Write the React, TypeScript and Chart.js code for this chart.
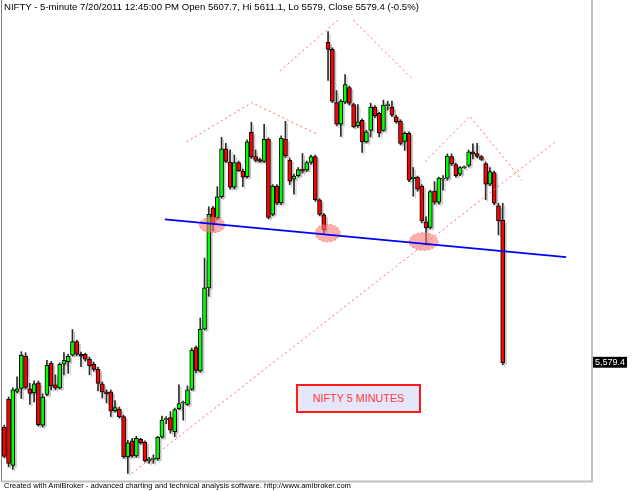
import React, { useEffect, useRef } from "react";
import Chart from "chart.js/auto";
import type { ChartConfiguration, Plugin } from "chart.js";

// 5-minute bars, oldest first; the last bar is 7/20/2011 12:45
const opens = [
  5566.6, 5572.2, 5559.0, 5573.7, 5574.3, 5580.7, 5574.2, 5573.4, 5575.4, 5567.0,
  5573.1, 5579.3, 5575.0, 5574.4, 5579.1, 5579.6, 5580.9, 5583.6, 5581.1, 5581.1,
  5580.1, 5579.1, 5578.1, 5575.2, 5573.6, 5573.6, 5569.9, 5570.2, 5568.7, 5560.7,
  5563.9, 5560.9, 5564.2, 5563.6, 5559.9, 5560.2, 5560.3, 5564.6, 5568.1, 5568.5,
  5565.7, 5570.3, 5571.4, 5571.1, 5574.1, 5582.4, 5577.8, 5586.1, 5594.3, 5610.2,
  5608.2, 5612.4, 5621.9, 5619.3, 5614.3, 5619.2, 5617.5, 5616.4, 5625.2, 5620.4,
  5619.8, 5619.4, 5623.8, 5608.9, 5614.5, 5611.2, 5623.8, 5619.7, 5615.9, 5616.6,
  5617.9, 5617.7, 5619.2, 5620.4, 5611.8, 5608.8, 5643.1, 5641.7, 5631.1, 5626.8,
  5631.2, 5634.1, 5630.7, 5626.5, 5627.6, 5623.3, 5625.6, 5630.2, 5629.0, 5625.6,
  5630.5, 5630.2, 5628.3, 5627.4, 5623.4, 5625.0, 5616.0, 5616.3, 5614.5, 5607.4,
  5606.3, 5613.5, 5611.3, 5615.9, 5616.1, 5620.4, 5618.8, 5616.9, 5618.2, 5618.6,
  5621.3, 5621.0, 5620.4, 5619.0, 5614.9, 5617.2, 5610.6, 5607.7,
];
const highs = [
  5567.0, 5572.6, 5574.4, 5576.6, 5581.6, 5581.4, 5575.3, 5575.8, 5575.8, 5573.2,
  5579.9, 5579.7, 5577.0, 5579.4, 5581.4, 5581.1, 5586.0, 5583.9, 5581.5, 5581.3,
  5580.5, 5579.5, 5578.5, 5575.6, 5574.0, 5574.0, 5571.9, 5570.6, 5569.0, 5564.0,
  5564.4, 5564.8, 5564.4, 5563.9, 5560.6, 5561.1, 5564.8, 5568.8, 5568.7, 5569.7,
  5570.4, 5575.0, 5571.8, 5574.8, 5582.3, 5582.7, 5588.3, 5600.2, 5610.4, 5610.5,
  5614.4, 5624.2, 5623.0, 5621.7, 5620.7, 5619.5, 5617.9, 5623.7, 5627.2, 5621.7,
  5620.1, 5626.8, 5624.1, 5614.8, 5614.8, 5624.5, 5627.4, 5620.1, 5616.9, 5618.2,
  5621.0, 5619.5, 5620.7, 5620.7, 5612.0, 5609.1, 5645.2, 5642.0, 5633.5, 5631.7,
  5636.7, 5634.4, 5631.0, 5630.7, 5627.9, 5625.6, 5631.0, 5630.5, 5629.2, 5631.6,
  5631.4, 5631.4, 5628.6, 5627.7, 5625.3, 5625.3, 5618.2, 5616.5, 5614.8, 5608.4,
  5613.7, 5615.4, 5616.3, 5616.6, 5620.9, 5620.9, 5619.1, 5618.4, 5618.5, 5621.7,
  5622.9, 5623.0, 5620.6, 5619.3, 5618.2, 5617.5, 5611.1, 5611.1,
];
const lows = [
  5560.5, 5558.7, 5558.2, 5573.4, 5572.3, 5574.2, 5571.1, 5571.6, 5566.8, 5566.6,
  5572.8, 5574.0, 5574.0, 5574.2, 5577.0, 5577.3, 5580.7, 5580.8, 5578.6, 5579.7,
  5577.0, 5577.7, 5573.8, 5572.4, 5571.4, 5568.7, 5569.6, 5568.4, 5560.4, 5557.4,
  5560.6, 5560.6, 5563.2, 5559.7, 5559.4, 5559.4, 5560.0, 5564.4, 5567.3, 5565.4,
  5564.7, 5570.1, 5568.0, 5570.9, 5573.9, 5577.4, 5577.5, 5585.9, 5592.6, 5605.6,
  5607.8, 5612.1, 5619.2, 5613.9, 5613.9, 5617.4, 5614.4, 5616.1, 5620.0, 5619.3,
  5619.2, 5619.2, 5608.0, 5608.6, 5610.8, 5610.8, 5620.2, 5614.8, 5612.9, 5616.3,
  5617.1, 5617.4, 5618.8, 5611.5, 5608.6, 5605.1, 5635.5, 5631.1, 5626.5, 5624.4,
  5630.9, 5630.6, 5626.1, 5626.2, 5621.2, 5623.1, 5624.3, 5628.1, 5624.3, 5625.4,
  5629.6, 5628.3, 5627.0, 5622.7, 5621.6, 5615.4, 5612.5, 5613.5, 5607.2, 5602.8,
  5606.0, 5610.9, 5610.9, 5613.7, 5615.7, 5618.6, 5616.3, 5616.6, 5618.0, 5618.3,
  5619.9, 5620.1, 5619.6, 5611.8, 5614.6, 5610.8, 5604.8, 5579.0,
];
const closes = [
  5560.8, 5559.4, 5574.0, 5574.2, 5580.9, 5574.5, 5573.3, 5575.2, 5567.1, 5572.6,
  5578.9, 5574.8, 5574.4, 5579.1, 5579.9, 5580.7, 5583.6, 5581.1, 5580.7, 5580.1,
  5578.8, 5578.1, 5575.3, 5573.6, 5573.2, 5569.8, 5570.5, 5568.7, 5560.7, 5563.5,
  5560.9, 5564.4, 5563.5, 5559.9, 5560.3, 5560.3, 5564.6, 5568.0, 5568.2, 5566.0,
  5570.1, 5571.3, 5571.5, 5574.0, 5581.9, 5577.9, 5586.1, 5594.3, 5608.9, 5607.1,
  5612.4, 5621.9, 5619.4, 5614.3, 5619.2, 5617.6, 5616.3, 5623.3, 5620.3, 5619.6,
  5619.4, 5623.8, 5608.3, 5614.5, 5611.1, 5624.0, 5620.5, 5615.5, 5616.5, 5617.8,
  5617.5, 5619.2, 5620.4, 5611.8, 5608.9, 5605.8, 5641.7, 5631.4, 5626.8, 5631.4,
  5634.7, 5631.0, 5626.3, 5627.3, 5623.3, 5625.3, 5630.2, 5628.5, 5625.1, 5630.6,
  5630.6, 5628.6, 5627.3, 5623.0, 5625.0, 5615.7, 5616.3, 5613.9, 5607.6, 5606.2,
  5613.4, 5611.3, 5616.1, 5616.1, 5620.5, 5618.9, 5616.6, 5618.2, 5618.3, 5621.3,
  5620.9, 5620.4, 5619.8, 5614.9, 5617.4, 5611.1, 5607.6, 5579.4,
];

// hand-drawn trend lines as [bar index, price] points
const leftShoulderLine = [[42.8, 5623.3], [58.1, 5631.1], [73.7, 5624.7]];
const headRiseLine = [[64.7, 5637.4], [78.3, 5647.5]];
const headFallLine = [[81.9, 5647.5], [95.7, 5635.9]];
const rightShoulderLine = [[98.8, 5619.4], [109.3, 5628.4], [121.5, 5615.7]];
const channelLine = [[29.9, 5557.4], [129.6, 5623.5]];
const necklineLine = [[37.7, 5607.9], [131.9, 5600.4]];

// neckline touches: [bar index, price, half width in bars, half height in points]
const touchMarks = [
  [48.8, 5606.8, 3.0, 1.55],
  [75.9, 5605.2, 2.9, 1.75],
  [98.4, 5603.5, 3.35, 1.75],
];

const FONT = 'Arial, "Liberation Sans", sans-serif';
const UP = "#00ff00";
const DOWN = "#ff0000";

const formatPrice = (v: number) => {
  const [int, dec] = v.toFixed(1).split(".");
  return `${int.replace(/\B(?=(\d{3})+$)/g, ",")}.${dec}`;
};

const toPoints = (line: number[][]) => line.map(([x, y]) => ({ x, y }));

const trendDataset = (line: number[][], color: string, width: number, dash: number[]) => ({
  type: "line" as const,
  data: toPoints(line),
  borderColor: color,
  borderWidth: width,
  borderDash: dash,
  pointRadius: 0,
  fill: false,
  tension: 0,
  order: dash.length ? 1 : 0,
});

// light grey copy of each candle, a little down and right
const shadowPlugin: Plugin = {
  id: "candleShadow",
  beforeDatasetsDraw(chart) {
    const ctx = chart.ctx;
    ctx.save();
    ctx.fillStyle = "#c4c4c4";
    [0, 1].forEach((index) => {
      chart.getDatasetMeta(index).data.forEach((element: any) => {
        const { x, y, base, width } = element.getProps(["x", "y", "base", "width"], true);
        const top = Math.min(y, base);
        const h = Math.max(Math.abs(base - y), 1);
        ctx.fillRect(x - width / 2 + 2, top + 2, width, h);
      });
    });
    ctx.restore();
  },
};

const touchPlugin: Plugin = {
  id: "touchMarks",
  afterDatasetDraw(chart, args) {
    if (args.index !== 1) return;
    const { x: xs, y: ys } = chart.scales;
    const ctx = chart.ctx;
    ctx.save();
    touchMarks.forEach(([cx, cy, hw, hh]) => {
      const px = xs.getPixelForValue(cx);
      const py = ys.getPixelForValue(cy);
      const rx = Math.abs(xs.getPixelForValue(cx + hw) - px);
      const ry = Math.abs(ys.getPixelForValue(cy + hh) - py);
      ctx.beginPath();
      ctx.ellipse(px, py, rx, ry, 0, 0, Math.PI * 2);
      ctx.fillStyle = "rgba(255, 120, 120, 0.6)";
      ctx.fill();
      ctx.setLineDash([2, 2]);
      ctx.strokeStyle = "rgba(255, 90, 90, 0.8)";
      ctx.lineWidth = 1;
      ctx.stroke();
    });
    ctx.restore();
  },
};

const framePlugin: Plugin = {
  id: "frame",
  afterDraw(chart) {
    const { ctx, chartArea: area } = chart;
    ctx.save();
    ctx.strokeStyle = "#808080";
    ctx.lineWidth = 1;
    ctx.beginPath();
    ctx.moveTo(1.5, 0);
    ctx.lineTo(1.5, area.bottom + 2);
    ctx.stroke();
    ctx.strokeStyle = "#c0c0c0";
    ctx.lineWidth = 2;
    ctx.beginPath();
    ctx.moveTo(1, area.bottom + 1.5);
    ctx.lineTo(area.right + 1, area.bottom + 1.5);
    ctx.moveTo(area.right, 0);
    ctx.lineTo(area.right, area.bottom + 2.5);
    ctx.stroke();
    ctx.restore();
  },
};

const CandleChart: React.FC = () => {
  const canvasRef = useRef<HTMLCanvasElement | null>(null);

  useEffect(() => {
    const canvas = canvasRef.current;
    if (!canvas) return;

    const bodyColors = opens.map((o, i) => (closes[i] >= o ? UP : DOWN));
    const lastClose = closes[closes.length - 1];

    const config: ChartConfiguration = {
      type: "bar",
      data: {
        datasets: [
          {
            type: "bar",
            label: "range",
            data: lows.map((l, i) => ({ x: i, y: [l, highs[i]] })) as any,
            backgroundColor: "#2a2a2a",
            barThickness: 1,
            grouped: false,
            order: 3,
          },
          {
            type: "bar",
            label: "body",
            data: opens.map((o, i) => ({ x: i, y: [o, closes[i]] })) as any,
            backgroundColor: bodyColors,
            borderColor: "#000000",
            borderWidth: 1,
            borderSkipped: false,
            barThickness: 4,
            minBarLength: 1,
            grouped: false,
            order: 2,
          },
          trendDataset(leftShoulderLine, "#ff6a6a", 1, [2, 3]),
          trendDataset(headRiseLine, "#ff6a6a", 1, [2, 3]),
          trendDataset(headFallLine, "#ff6a6a", 1, [2, 3]),
          trendDataset(rightShoulderLine, "#ff6a6a", 1, [2, 3]),
          trendDataset(channelLine, "#ff6a6a", 1, [2, 3]),
          trendDataset(necklineLine, "#0000ff", 1.6, []),
        ] as any,
      },
      options: {
        responsive: true,
        maintainAspectRatio: false,
        animation: false,
        events: [],
        layout: { padding: { left: 2, right: 0, top: 0, bottom: 11 } },
        plugins: {
          legend: { display: false },
          tooltip: { enabled: false },
        },
        scales: {
          x: {
            type: "linear",
            min: -0.54,
            max: 137.96,
            offset: false,
            display: false,
          },
          y: {
            type: "linear",
            position: "right",
            min: 5556.1,
            max: 5651.5,
            grid: { display: false, drawTicks: false },
            border: { display: false },
            afterBuildTicks: (axis: any) => {
              axis.ticks = [{ value: lastClose }];
            },
            afterFit: (axis: any) => {
              axis.width = 48;
              axis.paddingTop = 0;
              axis.paddingBottom = 0;
            },
            ticks: {
              autoSkip: false,
              padding: 3,
              color: "#ffffff",
              font: { family: FONT, size: 9, lineHeight: 1.1 },
              showLabelBackdrop: true,
              backdropColor: "#000000",
              backdropPadding: { top: 1, bottom: 0, left: 2, right: 2 },
              callback: (value: any) => formatPrice(Number(value)),
            },
          },
        },
      } as any,
      plugins: [shadowPlugin, touchPlugin, framePlugin],
    };

    const chart = new Chart(canvas, config);
    return () => {
      chart.destroy();
    };
  }, []);

  return <canvas ref={canvasRef} />;
};

export default function App() {
  return (
    <div
      style={{
        position: "fixed",
        left: 0,
        top: 0,
        width: 640,
        height: 491,
        background: "#ffffff",
        overflow: "hidden",
        fontFamily: FONT,
      }}
    >
      <div style={{ position: "absolute", inset: 0 }}>
        <CandleChart />
      </div>
      <div
        style={{
          position: "absolute",
          left: 4,
          top: 1,
          fontSize: 9.6,
          lineHeight: "12px",
          color: "#000",
          whiteSpace: "nowrap",
        }}
      >
        NIFTY - 5-minute 7/20/2011 12:45:00 PM Open 5607.7, Hi 5611.1, Lo 5579, Close 5579.4 (-0.5%)
      </div>
      <div
        style={{
          position: "absolute",
          left: 296,
          top: 384,
          width: 121,
          height: 25,
          border: "2px solid #ff1a1a",
          background: "#e6e6fa",
          color: "#ff3a3a",
          fontSize: 10.8,
          lineHeight: "25px",
          textAlign: "center",
          whiteSpace: "nowrap",
        }}
      >
        NIFTY 5 MINUTES
      </div>
      <div
        style={{
          position: "absolute",
          left: 4,
          top: 481,
          fontSize: 7.6,
          lineHeight: "10px",
          color: "#000",
          whiteSpace: "nowrap",
        }}
      >
        Created with AmiBroker - advanced charting and technical analysis software. http://www.amibroker.com
      </div>
    </div>
  );
}
